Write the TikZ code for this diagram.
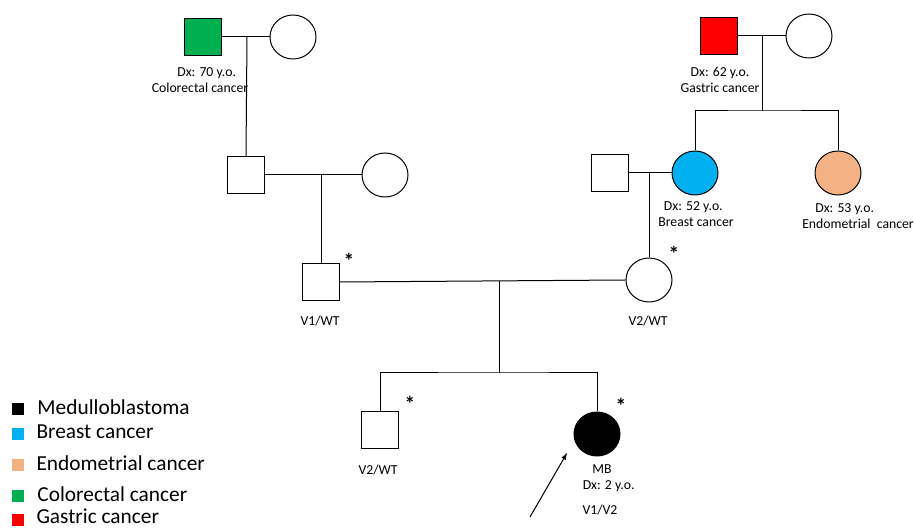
\documentclass[tikz,border=0pt]{standalone}
\usepackage{fontspec}
\setmainfont{Carlito}
\usetikzlibrary{shapes.geometric}
\definecolor{colorectal}{HTML}{00B050}
\definecolor{gastric}{HTML}{FF0000}
\definecolor{breast}{HTML}{00B0F0}
\definecolor{endometrial}{HTML}{F4B183}
\begin{document}
\begin{tikzpicture}[x=0.75pt,y=-0.75pt,line width=0.75pt,
  male/.style={draw,rectangle,minimum size=27.5pt,inner sep=0pt},
  female/.style={draw,ellipse,minimum width=34.5pt,minimum height=33pt,inner sep=0pt},
  lab/.style={font=\fontsize{10.3}{12.3}\selectfont,align=center,inner sep=0pt},
  star/.style={font=\fontsize{16}{16}\selectfont\bfseries,inner sep=0pt},
  key/.style={rectangle,minimum size=9pt,inner sep=0pt},
  keytext/.style={anchor=base west,font=\fontsize{16}{18}\selectfont,inner sep=0pt}]
\useasboundingbox (0,0) rectangle (915,530);
\node[male,fill=colorectal] (A) at (203,37) {};
\node[female] (B) at (293,37) {};
\node[male,fill=gastric] (C) at (719,36) {};
\node[female] (D) at (809,36) {};
\node[male] (E) at (246,175) {};
\node[female] (F) at (385,175) {};
\node[male] (G) at (610,173) {};
\node[female,fill=breast] (H) at (695,173) {};
\node[female,fill=endometrial] (I) at (838,173) {};
\node[male] (J) at (321,282) {};
\node[female] (K) at (649,280) {};
\node[male] (L) at (380,430) {};
\node[female,fill=black] (M) at (597,434) {};
\coordinate (m1) at (247,37);
\coordinate (m2) at (762,36);
\coordinate (m3) at (321,175);
\coordinate (m4) at (649,173);
\coordinate (m5) at (499,281);
\coordinate (s1) at (762,111);
\coordinate (s2) at (499,373);
\draw (A) -- (B);
\draw (C) -- (D);
\draw (E) -- (F);
\draw (G) -- (H);
\draw (J.east) -- (K.west);
\draw (m1) -- (E.north);
\draw (m3) -- (J.north);
\draw (m4) -- (K.north);
\draw (m2) -- (s1);
\draw (H.north) |- (s1) -| (I.north);
\draw (m5) -- (s2);
\draw (L.north) |- (s2) -| (M.north);
\node[lab] (a) at (200,80) {\hspace*{10pt}Dx: 70 y.o.\\Colorectal cancer};
\node[lab] (c) at (720,80) {Dx: 62 y.o.\\Gastric cancer};
\node[lab] (h) at (696,214) {Dx: 52 y.o.\hspace*{4pt}\\Breast cancer};
\node[lab] (i) at (858,216) {Dx: 53 y.o.\hspace*{20pt}\\Endometrial\ \ cancer};
\node[lab] (j) at (320,321) {V1/WT};
\node[lab] (k) at (648,321) {V2/WT};
\node[lab] (l) at (378,470) {V2/WT};
\node[lab] (m) at (602,478) {MB\\\hspace*{10pt}Dx: 2 y.o.};
\node[lab] (n) at (600,510) {V1/V2};
\node[star] (j1) at (349,261) {*};
\node[star] (k1) at (674,254) {*};
\node[star] (l1) at (410,404) {*};
\node[star] (m1) at (621,406) {*};
\coordinate (P) at (530,517);
\coordinate (Q) at (567,453);
\draw[-latex] (P) -- (Q);
\node[key,fill=black] (K1) at (18,409) {};
\node[key,fill=breast] (K2) at (18,434.5) {};
\node[key,fill=endometrial] (K3) at (18,465) {};
\node[key,fill=colorectal] (K4) at (18,496.5) {};
\node[key,fill=gastric] (K5) at (18,520) {};
\node[keytext] (T1) at (37,415) {Medulloblastoma};
\node[keytext] (T2) at (36,439) {Breast cancer};
\node[keytext] (T3) at (36,471) {Endometrial cancer};
\node[keytext] (T4) at (37,502) {Colorectal cancer};
\node[keytext] (T5) at (36,524) {Gastric cancer};
\end{tikzpicture}
\end{document}
